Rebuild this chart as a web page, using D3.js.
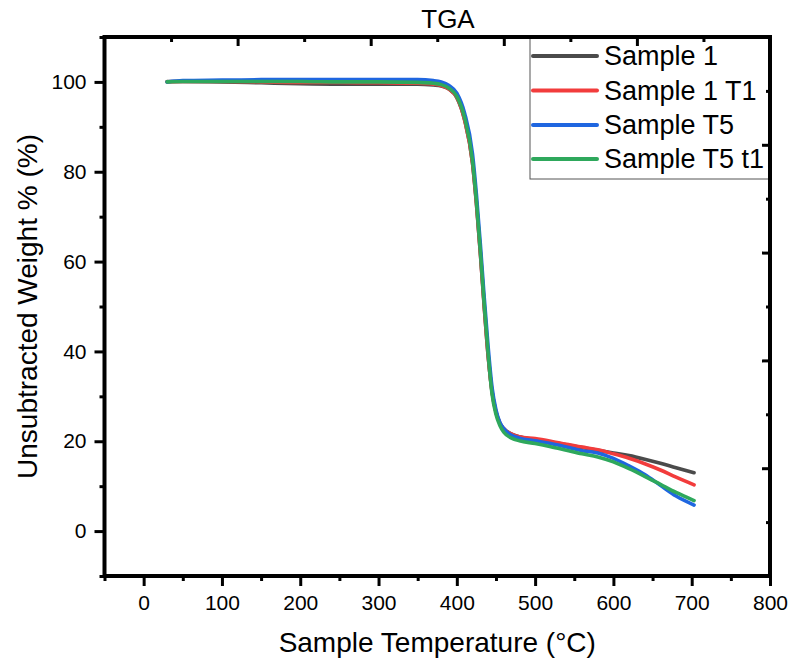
<!DOCTYPE html>
<html>
<head>
<meta charset="utf-8">
<script src="https://cdn.jsdelivr.net/npm/d3@7"></script>
<style>
  html, body { margin: 0; padding: 0; background: #fff; }
  svg { display: block; font-family: "Liberation Sans", Arial, sans-serif; }
</style>
</head>
<body>
<svg id="chart" width="794" height="660"></svg>
<script>
// TGA curves: weight % against sample temperature
const temperatures = [30, 50, 100, 150, 200, 250, 300, 350, 370, 380, 390, 400, 410, 420, 425, 430, 435, 440, 445, 450, 455, 460, 470, 480, 500, 520, 540, 560, 580, 600, 620, 640, 660, 680, 703];

const sample1   = [100.1, 100.1, 100.0, 99.8, 99.6, 99.5, 99.5, 99.5, 99.3, 99.1, 98.4, 96.5, 91.5, 82, 73, 62, 50, 39, 31, 26.5, 24, 22.8, 21.6, 21.0, 20.4, 19.8, 19.2, 18.6, 18.0, 17.4, 16.8, 16.0, 15.1, 14.1, 13.0];
const sample1T1 = [100.0, 100.1, 100.1, 100.0, 99.9, 99.9, 99.8, 99.7, 99.5, 99.2, 98.4, 96.6, 91.5, 82, 73, 62, 50, 39, 31, 26.5, 24, 22.8, 21.6, 21.0, 20.6, 20.0, 19.3, 18.7, 18.1, 17.2, 16.2, 15.0, 13.6, 12.0, 10.3];
const sampleT5  = [100.0, 100.3, 100.4, 100.5, 100.5, 100.5, 100.5, 100.5, 100.3, 100.0, 99.2, 97.5, 93, 84, 75, 64, 52, 41, 32, 27, 24.2, 22.8, 21.3, 20.7, 20.1, 19.5, 18.7, 17.9, 17.4, 16.2, 14.5, 12.6, 10.2, 7.8, 5.8];
const sampleT5t1 = [100.0, 100.1, 100.1, 100.1, 100.1, 100.0, 100.0, 99.9, 99.7, 99.4, 98.6, 96.8, 92, 82.5, 73.5, 62.5, 50.5, 39.5, 30.5, 26, 23.5, 22, 20.7, 20.1, 19.5, 18.8, 18.0, 17.2, 16.5, 15.4, 13.9, 12.2, 10.4, 8.6, 6.8];

const seriesNames  = ["Sample 1", "Sample 1 T1", "Sample T5", "Sample T5 t1"];
const seriesValues = [sample1, sample1T1, sampleT5, sampleT5t1];
const seriesColors = ["#4b4b4b", "#f23c3c", "#1f66e0", "#2ea85c"];

const xMajorTicks = [0, 100, 200, 300, 400, 500, 600, 700, 800];
const yMajorTicks = [0, 20, 40, 60, 80, 100];

const svg = d3.select("#chart");
const plotLeft = 104.5, plotRight = 770, plotTop = 37, plotBottom = 576;

const x = d3.scaleLinear().domain([-50, 800]).range([plotLeft, plotRight]);
const y = d3.scaleLinear().domain([-10, 110]).range([plotBottom, plotTop]);
// unlabeled secondary axes on the top and right edges
const xTop = d3.scaleLinear().domain([0, 1]).range([plotLeft, plotRight]);
const yRight = d3.scaleLinear().domain([0, 1]).range([plotBottom, plotTop]);

// data lines
const line = d3.line()
  .x((d, i) => x(temperatures[i]))
  .y(d => y(d))
  .curve(d3.curveMonotoneX);

svg.append("g").selectAll("path")
  .data(seriesValues)
  .join("path")
  .attr("d", d => line(d))
  .attr("fill", "none")
  .attr("stroke", (d, i) => seriesColors[i])
  .attr("stroke-width", 3.6)
  .attr("stroke-linejoin", "round")
  .attr("stroke-linecap", "round");

// legend
const legend = svg.append("g");
legend.append("rect")
  .attr("x", 530).attr("y", plotTop).attr("width", plotRight - 530).attr("height", 179 - plotTop)
  .attr("fill", "#fff").attr("stroke", "#555").attr("stroke-width", 1);
const rowY = [56, 90.5, 125, 159];
seriesNames.forEach((name, i) => {
  legend.append("line")
    .attr("x1", 533).attr("x2", 597).attr("y1", rowY[i]).attr("y2", rowY[i])
    .attr("stroke", seriesColors[i]).attr("stroke-width", 4).attr("stroke-linecap", "round");
  legend.append("text")
    .attr("x", 604).attr("y", rowY[i]).attr("dy", "0.35em")
    .attr("font-size", 27).attr("fill", "#000")
    .text(name);
});

// axes
function styleAxis(g) {
  g.select(".domain").remove();
  g.selectAll(".tick line").attr("stroke", "#000").attr("stroke-width", 3);
  g.selectAll(".tick text").attr("font-size", 21).attr("fill", "#000")
    .attr("font-family", "Liberation Sans, Arial, sans-serif");
}

const xMinor = d3.range(-50, 801, 50).filter(v => !xMajorTicks.includes(v));
const yMinor = d3.range(-10, 111, 10).filter(v => !yMajorTicks.includes(v));

svg.append("g").attr("transform", `translate(0,${plotBottom})`)
  .call(d3.axisBottom(x).tickValues(xMinor).tickSize(5).tickFormat(""))
  .call(styleAxis);
svg.append("g").attr("transform", `translate(0,${plotBottom})`)
  .call(d3.axisBottom(x).tickValues(xMajorTicks).tickSize(10).tickPadding(9).tickFormat(d3.format("d")))
  .call(styleAxis);

svg.append("g").attr("transform", `translate(${plotLeft},0)`)
  .call(d3.axisLeft(y).tickValues(yMinor).tickSize(5).tickFormat(""))
  .call(styleAxis);
svg.append("g").attr("transform", `translate(${plotLeft},0)`)
  .call(d3.axisLeft(y).tickValues(yMajorTicks).tickSize(10).tickPadding(8).tickFormat(d3.format("d")))
  .call(styleAxis);

// inward ticks on the top and right edges
svg.append("g").attr("transform", `translate(0,${plotTop})`)
  .call(d3.axisBottom(xTop).tickValues([0.1, 0.3, 0.5, 0.7, 0.9]).tickSize(5).tickFormat(""))
  .call(styleAxis);
svg.append("g").attr("transform", `translate(0,${plotTop})`)
  .call(d3.axisBottom(xTop).tickValues([0.2, 0.4, 0.6, 0.8]).tickSize(9).tickFormat(""))
  .call(styleAxis);
svg.append("g").attr("transform", `translate(${plotRight},0)`)
  .call(d3.axisLeft(yRight).tickValues([0.1, 0.3, 0.5, 0.7, 0.9]).tickSize(4).tickFormat(""))
  .call(styleAxis);
svg.append("g").attr("transform", `translate(${plotRight},0)`)
  .call(d3.axisLeft(yRight).tickValues([0.2, 0.4, 0.6, 0.8]).tickSize(8).tickFormat(""))
  .call(styleAxis);

// frame
svg.append("rect")
  .attr("x", plotLeft).attr("y", plotTop).attr("width", plotRight - plotLeft).attr("height", plotBottom - plotTop)
  .attr("fill", "none").attr("stroke", "#000").attr("stroke-width", 4);

// titles
svg.append("text")
  .attr("x", 448).attr("y", 28).attr("text-anchor", "middle")
  .attr("font-size", 26).attr("fill", "#000").text("TGA");

svg.append("text")
  .attr("x", (plotLeft + plotRight) / 2).attr("y", 652).attr("text-anchor", "middle")
  .attr("font-size", 28).attr("fill", "#000").text("Sample Temperature (°C)");

svg.append("text")
  .attr("transform", `translate(37,${(plotTop + plotBottom) / 2}) rotate(-90)`)
  .attr("text-anchor", "middle")
  .attr("font-size", 28).attr("fill", "#000").text("Unsubtracted Weight % (%)");
</script>
</body>
</html>
